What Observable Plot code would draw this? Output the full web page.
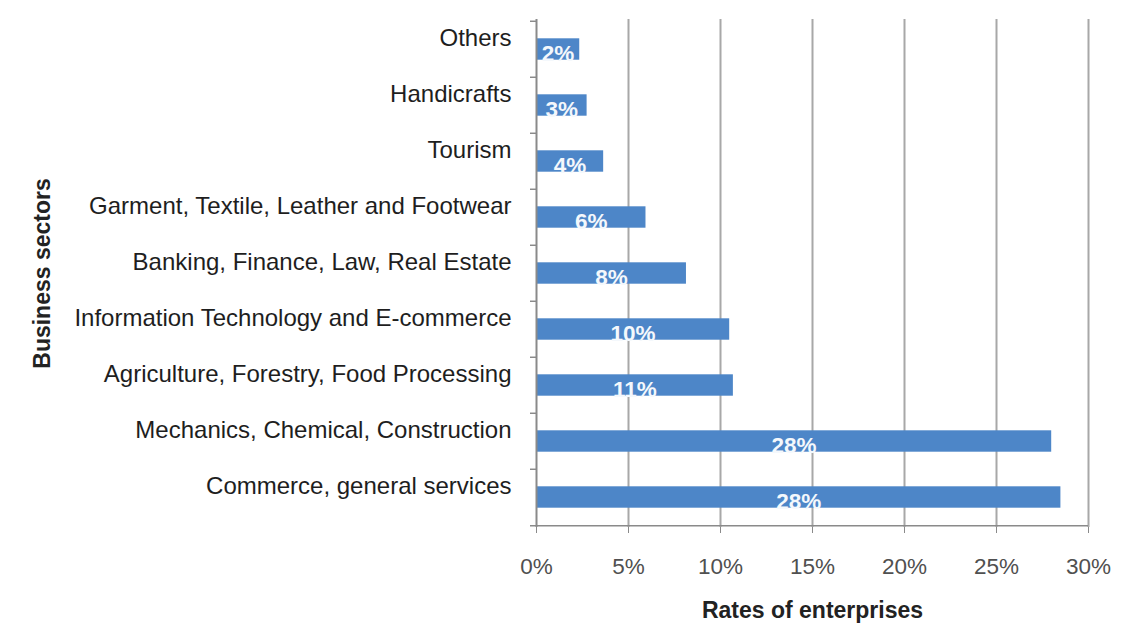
<!DOCTYPE html>
<html>
<head>
<meta charset="utf-8">
<script src="https://cdn.jsdelivr.net/npm/d3@7"></script>
<script src="https://cdn.jsdelivr.net/npm/@observablehq/plot@0.6"></script>
<style>
  html, body { margin: 0; padding: 0; background: #fff; }
  #chart svg { display: block; }
</style>
</head>
<body>
<div id="chart"></div>
<script>
const sectors = [
  "Others",
  "Handicrafts",
  "Tourism",
  "Garment, Textile, Leather and Footwear",
  "Banking, Finance, Law, Real Estate",
  "Information Technology and E-commerce",
  "Agriculture, Forestry, Food Processing",
  "Mechanics, Chemical, Construction",
  "Commerce, general services"
];
const rates = [2.35, 2.75, 3.65, 5.95, 8.15, 10.5, 10.7, 28.0, 28.5];
const valueLabels = ["2%", "3%", "4%", "6%", "8%", "10%", "11%", "28%", "28%"];
const xTicks = [0, 5, 10, 15, 20, 25, 30];
const xTitle = "Rates of enterprises";
const yTitle = "Business sectors";

const data = sectors.map((s, i) => ({sector: s, rate: rates[i], label: valueLabels[i]}));

const marginTop = 19, marginBottom = 103, height = 630;
const step = (height - marginTop - marginBottom) / sectors.length;
const font = "'Liberation Sans', Arial, sans-serif";

const chart = Plot.plot({
  width: 1128,
  height,
  marginLeft: 536,
  marginRight: 40,
  marginTop,
  marginBottom,
  style: {fontFamily: font, background: "#fff"},
  x: {domain: [0, 30]},
  y: {domain: sectors, padding: 0},
  marks: [
    Plot.ruleX(xTicks.filter(d => d > 0), {stroke: "#a8a8a8", strokeWidth: 2}),
    Plot.barX(data, {y: "sector", x: "rate", fill: "#4d86c8", insetTop: 17.3, insetBottom: 17.3}),
    Plot.text(data, {
      y: "sector", x: d => d.rate / 2, text: "label",
      fill: "#f4f8fc", fontSize: 22.5, fontWeight: "bold", dy: 4
    }),
    Plot.ruleX([0], {stroke: "#8a8a8a", strokeWidth: 2}),
    Plot.ruleY(sectors, {y: d => d, x1: 0, x2: 0, insetLeft: -6, dy: -step / 2, stroke: "#8a8a8a", strokeWidth: 1.5}),
    Plot.ruleY(sectors.slice(-1), {y: d => d, x1: 0, x2: 30, insetLeft: -6, dy: step / 2, stroke: "#8a8a8a", strokeWidth: 1.5}),
    Plot.axisY({tickSize: 0, tickPadding: 25, dy: -11, fontSize: 24, fill: "#1e1e1e", label: null}),
    Plot.axisX(xTicks, {tickSize: 6, tickPadding: 25, stroke: "#8a8a8a", fontSize: 22.5, fill: "#505050", tickFormat: d => d + "%", label: null}),
    Plot.text([xTitle], {frameAnchor: "bottom", dy: 90, fontSize: 23, fontWeight: "bold", fill: "#222"}),
    Plot.text([yTitle], {frameAnchor: "left", textAnchor: "middle", rotate: -90, dx: -494, fontSize: 23, fontWeight: "bold", fill: "#222"})
  ]
});
document.getElementById("chart").appendChild(chart);
</script>
</body>
</html>
